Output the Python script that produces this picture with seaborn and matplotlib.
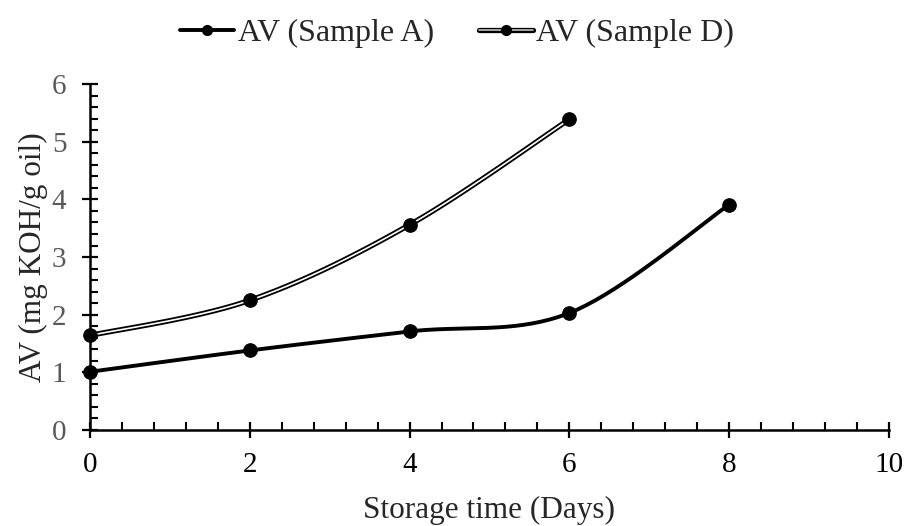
import numpy as np
import pandas as pd
import matplotlib
matplotlib.use("Agg")
import matplotlib.pyplot as plt
import matplotlib.patheffects as pe
from matplotlib.ticker import MultipleLocator
from matplotlib.lines import Line2D
import seaborn as sns

# 数据
days_a = [0, 2, 4, 6, 8]
av_a = [1.01, 1.38, 1.71, 2.03, 3.91]
days_d = [0, 2, 4, 6]
av_d = [1.64, 2.25, 3.56, 5.39]


def smooth(x, y, n=40):
    # Excel-like smoothed line (Catmull-Rom / Bezier)
    x = np.asarray(x, float)
    y = np.asarray(y, float)
    px = np.concatenate([[x[0]], x, [x[-1]]])
    py = np.concatenate([[y[0]], y, [y[-1]]])
    xs, ys = [], []
    for i in range(1, len(px) - 2):
        p0 = np.array([px[i - 1], py[i - 1]])
        p1 = np.array([px[i], py[i]])
        p2 = np.array([px[i + 1], py[i + 1]])
        p3 = np.array([px[i + 2], py[i + 2]])
        c1 = p1 + (p2 - p0) / 6
        c2 = p2 - (p3 - p1) / 6
        t = np.linspace(0, 1, n)[:, None]
        pts = ((1 - t) ** 3) * p1 + 3 * ((1 - t) ** 2) * t * c1 + 3 * (1 - t) * t ** 2 * c2 + t ** 3 * p2
        xs.extend(pts[:, 0])
        ys.extend(pts[:, 1])
    return pd.DataFrame({"x": xs, "y": ys, "order": np.arange(len(xs))})


sns.set_style("ticks")
plt.rcParams['font.family'] = ['Liberation Serif', 'DejaVu Serif']

fig = plt.figure(figsize=(9.05, 5.26), dpi=100)
ax = fig.add_axes([0.0994, 0.1825, 0.8829, 0.6575])

sa = smooth(days_a, av_a)
sd = smooth(days_d, av_d)

double = [pe.Stroke(linewidth=3.8, foreground="black"), pe.Normal()]

sns.lineplot(data=sa, x="x", y="y", sort=False, ax=ax, color="black", lw=2.8, clip_on=False)
sns.lineplot(data=sd, x="x", y="y", sort=False, ax=ax, color="white", lw=1.2, clip_on=False,
             path_effects=double)
sns.scatterplot(x=days_a, y=av_a, ax=ax, color="black", s=95, edgecolor="black", zorder=5, clip_on=False)
sns.scatterplot(x=days_d, y=av_d, ax=ax, color="black", s=95, edgecolor="black", zorder=5, clip_on=False)

ax.set_xlim(0, 10)
ax.set_ylim(0, 6)
ax.xaxis.set_major_locator(MultipleLocator(2))
ax.xaxis.set_minor_locator(MultipleLocator(0.4))
ax.yaxis.set_major_locator(MultipleLocator(1))
ax.yaxis.set_minor_locator(MultipleLocator(0.2))
sns.despine(ax=ax)
for s in ["left", "bottom"]:
    ax.spines[s].set_linewidth(1.8)
    ax.spines[s].set_color("black")
ax.tick_params(which="major", direction="inout", length=12, width=1.6, color="black", labelsize=21)
ax.tick_params(which="minor", direction="in", length=5.5, width=1.5, color="black")
ax.tick_params(axis="y", which="major", labelcolor="#595959", pad=11)
ax.tick_params(axis="x", which="major", labelcolor="black", pad=10)

ax.set_xlabel("Storage time (Days)", fontsize=22.5, labelpad=13)
ax.set_ylabel("AV (mg KOH/g oil)", fontsize=22.5, labelpad=3)

h_a = Line2D([0], [0], color="black", lw=2.8, marker="o", markersize=7)
h_d_line = Line2D([0], [0], color="#bfbfbf", lw=1.2, path_effects=double)
h_d_mark = Line2D([0], [0], color="none", marker="o", markersize=7, markerfacecolor="black",
                  markeredgecolor="black")
fig.legend([h_a, (h_d_line, h_d_mark)], ["AV (Sample A)", "AV (Sample D)"], loc="center",
           bbox_to_anchor=(0.505, 0.937), ncol=2, frameon=False, fontsize=23,
           handlelength=1.7, handletextpad=0.1, columnspacing=1.4)

fig.savefig("out.png", dpi=100)
